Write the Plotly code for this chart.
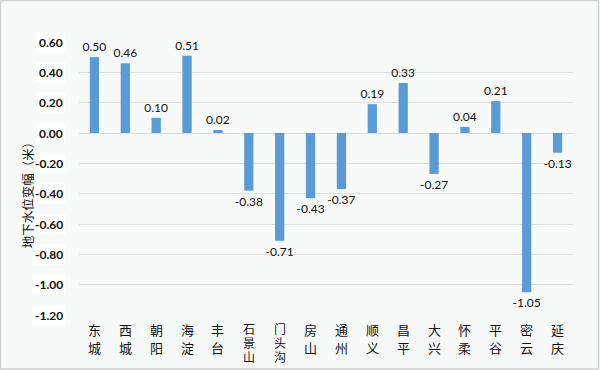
import plotly.graph_objects as go

categories = ["东城", "西城", "朝阳", "海淀", "丰台", "石景山", "门头沟", "房山",
              "通州", "顺义", "昌平", "大兴", "怀柔", "平谷", "密云", "延庆"]
values = [0.50, 0.46, 0.10, 0.51, 0.02, -0.38, -0.71, -0.43,
          -0.37, 0.19, 0.33, -0.27, 0.04, 0.21, -1.05, -0.13]
y_ticks = [0.60, 0.40, 0.20, 0.00, -0.20, -0.40, -0.60, -0.80, -1.00, -1.20]
y_tick_labels = ["%.2f" % v for v in y_ticks]
y_title = "地下水位变幅（米）"

LAT = "Lato, 'Liberation Sans', sans-serif"
CJK = "'Noto Sans CJK SC', sans-serif"

fig = go.Figure()
fig.add_trace(go.Bar(
    x=categories, y=values,
    marker=dict(color="#5B9BD5", line=dict(width=0)),
    width=0.3,
    text=["%.2f" % v for v in values],
    textposition="outside",
    constraintext="none",
    cliponaxis=False,
    textfont=dict(family=LAT, size=12, color="#111111"),
))

annotations = []
# y tick labels with white background boxes
for v, t in zip(y_ticks, y_tick_labels):
    annotations.append(dict(
        x=0, xref="paper", xanchor="right", xshift=-13,
        y=v, yref="y", yanchor="middle",
        text="<b>%s</b>" % t, showarrow=False,
        bgcolor="#FFFFFF", borderpad=2,
        font=dict(family=LAT, size=12, color="#111111"),
    ))
# category labels, one character per line
for c in categories:
    if len(c) == 2:
        shifts, fs = [-14, -32], 13
    else:
        shifts, fs = [-13, -27, -41], 12
    for ch, s in zip(c, shifts):
        annotations.append(dict(
            x=c, xref="x", y=0, yref="paper", yanchor="middle", yshift=s,
            text=ch, showarrow=False, borderpad=0,
            font=dict(family=CJK, size=fs, color="#111111"),
        ))
annotations.append(dict(
    x=-0.105, xref="paper", xanchor="center", y=0.45, yref="paper", yanchor="middle",
    text=y_title, textangle=-90, showarrow=False,
    font=dict(family=CJK, size=12.5, color="#111111"),
))

fig.update_layout(
    width=600, height=370,
    margin=dict(l=79, r=27, t=42, b=55, autoexpand=False),
    paper_bgcolor="#F8FAFA",
    plot_bgcolor="#F8FAFA",
    showlegend=False,
    xaxis=dict(
        showticklabels=False, automargin=False,
        showgrid=False, showline=False, ticks="", zeroline=False,
    ),
    yaxis=dict(
        range=[-1.2, 0.6], tickvals=y_ticks, showticklabels=False, automargin=False,
        showgrid=True, gridcolor="#DCDEDE", gridwidth=1,
        zeroline=False, showline=False, ticks="",
    ),
    annotations=annotations,
)
# outer border
fig.add_shape(type="rect", xref="paper", yref="paper",
              x0=-78.5/494, x1=1 + 25.5/494, y0=-54/273, y1=1 + 41.5/273,
              line=dict(color="#D0D0D0", width=1.5), layer="above")

fig.write_html("out.html", config={"displayModeBar": False},
               post_script="document.body.style.margin='0';")
